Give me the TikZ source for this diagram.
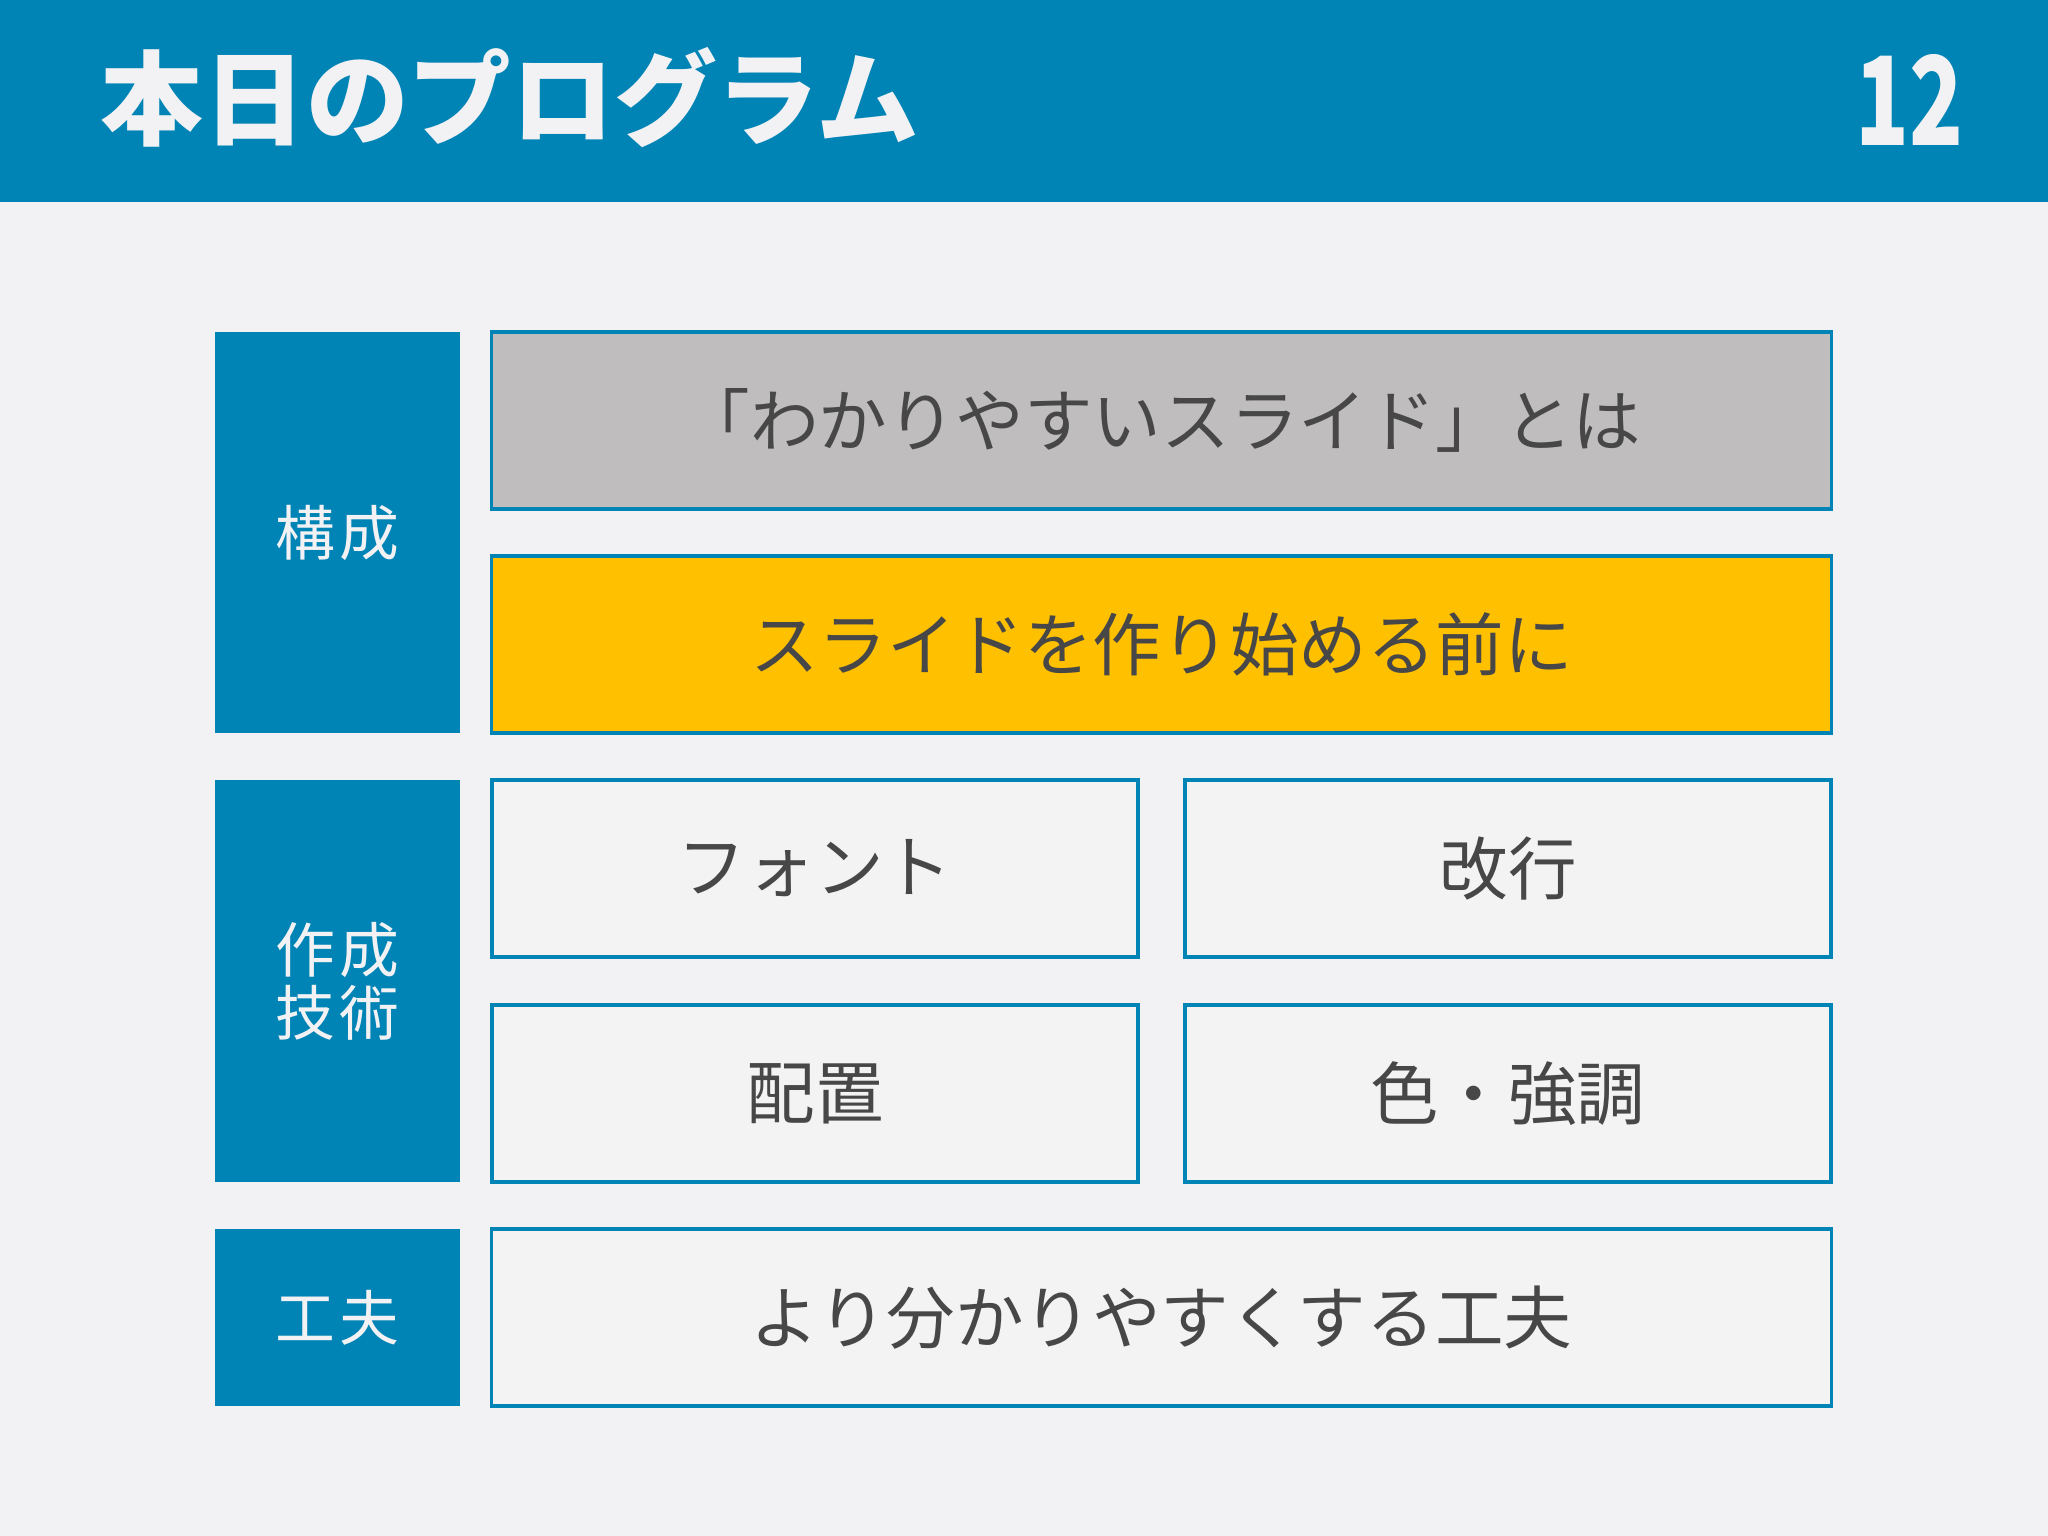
\documentclass[tikz,border=0pt]{standalone}
\usepackage{fontspec}
\setmainfont{Noto Sans CJK JP}
\newfontfamily\labelfont[LetterSpace=8]{Noto Sans CJK JP}
\usepackage{graphicx}
\usetikzlibrary{positioning}

\definecolor{slideblue}{HTML}{0083B5}
\definecolor{slidebg}{HTML}{F2F2F4}
\definecolor{boxfill}{HTML}{F2F3F2}
\definecolor{boxgray}{HTML}{BFBDBE}
\definecolor{boxyellow}{HTML}{FFC000}
\definecolor{textgray}{HTML}{474747}

\begin{document}
\begin{tikzpicture}[x=0.01cm, y=-0.01cm]
        \tikzstyle{part} = [rectangle, fill=slideblue, draw=none, minimum width=2.45cm, text=slidebg, align=center, font=\labelfont\fontsize{17}{20}\selectfont]
        \tikzstyle{topic} = [rectangle, fill=boxfill, draw=slideblue, line width=1pt, minimum height=1.77cm, text=textgray, font=\fontsize{19.5}{23}\selectfont]
        \tikzstyle{wide} = [topic, minimum width=13.39cm]
        \tikzstyle{half} = [topic, minimum width=6.46cm]
        % page and header
        \fill[slidebg] (0, 0) rectangle (2048, 1536);
        \useasboundingbox (0, 0) rectangle (2048, 1536);
        \fill[slideblue] (0, 0) rectangle (2048, 202);
        \node [anchor=west, text=slidebg, font=\bfseries\fontsize{29.2}{32}\selectfont, inner sep=0] (title) at (100, 98) {本日のプログラム};
        \node [anchor=east, text=slidebg, font=\bfseries\fontsize{35}{38}\selectfont, inner sep=0] (page) at (1964, 100) {\scalebox{0.72}[1]{12}};
        % left column
        \node [part, minimum height=4.01cm] (kousei) at (337.5, 532.5) {構成};
        \node [part, minimum height=4.02cm] (gijutsu) at (337.5, 981) {作成\\[-2pt]技術};
        \node [part, minimum height=1.77cm] (kufu) at (337.5, 1317.5) {工夫};
        % right column
	 \node [wide, fill=boxgray] (towa) at (1161.5, 420.5) {「わかりやすいスライド」とは};
	 \node [wide, fill=boxyellow] (mae) at (1161.5, 644.5) {スライドを作り始める前に};
	 \node [half] (font) at (815, 868.5) {フォント};
	 \node [half] (kaigyo) at (1508, 868.5) {改行};
	 \node [half] (haichi) at (815, 1093.5) {配置};
	 \node [half] (iro) at (1508, 1093.5) {色・強調};
	 \node [wide] (wakari) at (1161.5, 1317.5) {より分かりやすくする工夫};
    \end{tikzpicture}
\end{document}
